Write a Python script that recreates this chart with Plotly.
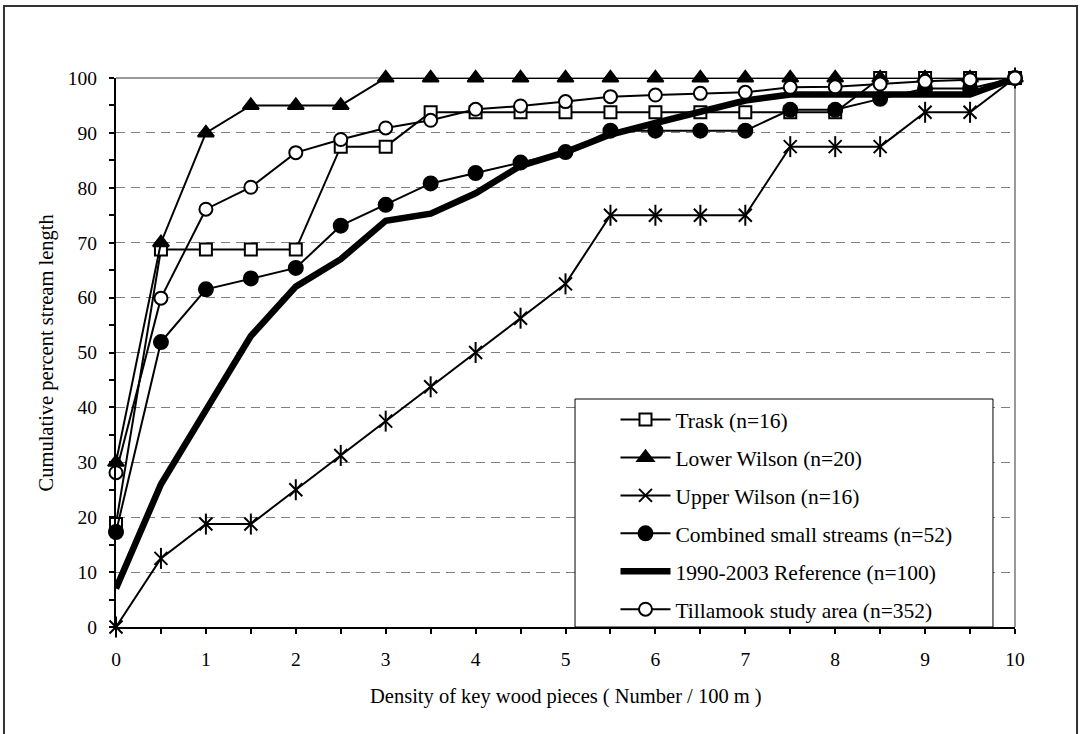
import plotly.graph_objects as go

# Density classes (key wood pieces per 100 m)
density = [0, 0.5, 1, 1.5, 2, 2.5, 3, 3.5, 4, 4.5, 5,
           5.5, 6, 6.5, 7, 7.5, 8, 8.5, 9, 9.5, 10]

# Cumulative percent of stream length for each group
trask = [18.75, 68.75, 68.75, 68.75, 68.75, 87.5, 87.5, 93.75, 93.75, 93.75, 93.75,
         93.75, 93.75, 93.75, 93.75, 93.75, 93.75, 100, 100, 100, 100]
lower_wilson = [30, 70, 90, 95, 95, 95, 100, 100, 100, 100, 100,
                100, 100, 100, 100, 100, 100, 100, 100, 100, 100]
upper_wilson = [0, 12.5, 18.75, 18.75, 25, 31.25, 37.5, 43.75, 50, 56.25, 62.5,
                75, 75, 75, 75, 87.5, 87.5, 87.5, 93.75, 93.75, 100]
combined = [17.3, 51.9, 61.5, 63.5, 65.4, 73.1, 76.9, 80.8, 82.7, 84.6, 86.5,
            90.4, 90.4, 90.4, 90.4, 94.2, 94.2, 96.2, 98.1, 98.1, 100]
reference = [7, 26, 39.5, 53, 62, 67, 74, 75.3, 79, 84, 86.5,
             89.7, 91.8, 93.9, 95.9, 97, 97, 97, 97, 97, 100]
tillamook = [28.1, 59.9, 76.1, 80.1, 86.4, 88.8, 90.9, 92.3, 94.3, 94.9, 95.7,
             96.6, 96.9, 97.2, 97.4, 98.3, 98.4, 98.9, 99.4, 99.7, 100]

names = ["Trask (n=16)", "Lower Wilson (n=20)", "Upper Wilson (n=16)",
         "Combined small streams (n=52)", "1990-2003 Reference (n=100)",
         "Tillamook study area (n=352)"]

FONT = "Liberation Serif"
INK = "black"

fig = go.Figure()

def add(y, name, group, symbol=None, size=12, fill="white", width=2, mode="lines+markers"):
    marker = dict(symbol=symbol or "circle", size=size, color=fill,
                  line=dict(color=INK, width=2))
    fig.add_trace(go.Scatter(
        x=density, y=y, name=name, mode=mode, legendgroup=group,
        line=dict(color=INK, width=width), marker=marker, cliponaxis=False))

add(trask, names[0], "g1", "square", 12, "white")
add(lower_wilson, names[1], "g2", "triangle-up", 14, INK)
add(upper_wilson, names[2], "g3", "x-thin-open", 13, INK)
# vertical stroke completes the six-armed star marker
fig.add_trace(go.Scatter(
    x=density, y=upper_wilson, mode="markers", showlegend=False, legendgroup="g3",
    marker=dict(symbol="line-ns-open", size=15, color=INK, line=dict(color=INK, width=2)),
    cliponaxis=False, hoverinfo="skip"))
add(combined, names[3], "g4", "circle", 14, INK)
add(reference, names[4], "g5", width=6.5, mode="lines")
add(tillamook, names[5], "g6", "circle", 13, "white")

fig.update_layout(
    width=1081, height=734,
    margin=dict(l=116, r=66, t=78, b=107, pad=0),
    paper_bgcolor="white", plot_bgcolor="white",
    font=dict(family=FONT, size=20, color=INK),
    showlegend=True,
    legend=dict(
        x=0.5556, y=0.4153, xanchor="left", yanchor="top",
        bgcolor="rgba(0,0,0,0)", borderwidth=0,
        font=dict(family=FONT, size=21.5, color=INK),
        traceorder="grouped", tracegroupgap=7, itemwidth=50,
    ),
    xaxis=dict(
        range=[0, 10], dtick=1, tick0=0, showgrid=False, zeroline=False,
        showline=True, linecolor=INK, linewidth=2,
        ticks="outside", ticklen=5, tickwidth=1.5, tickcolor=INK,
        minor=dict(dtick=0.5, ticks="outside", ticklen=5, tickwidth=1.5, tickcolor=INK),
        ticklabelstandoff=9,
        tickfont=dict(family=FONT, size=19.5, color=INK),
    ),
    yaxis=dict(
        range=[0, 100], dtick=10, tick0=0, zeroline=False,
        showgrid=True, gridcolor="#808080", gridwidth=1, griddash="9px,6px",
        showline=True, linecolor=INK, linewidth=2,
        ticks="outside", ticklen=5, tickwidth=1.5, tickcolor=INK,
        minor=dict(dtick=5, ticks="outside", ticklen=5, tickwidth=1.5, tickcolor=INK,
                   showgrid=False),
        ticklabelstandoff=8,
        tickfont=dict(family=FONT, size=19.5, color=INK),
    ),
    shapes=[
        # gray top and right frame of the plotting area
        dict(type="line", xref="paper", yref="paper", x0=0, x1=1, y0=1, y1=1,
             line=dict(color="#9a9a9a", width=2), layer="between"),
        dict(type="line", xref="paper", yref="paper", x0=1, x1=1, y0=0, y1=1,
             line=dict(color="#9a9a9a", width=2), layer="between"),
        # legend box
        dict(type="rect", xref="paper", yref="paper", x0=0.5106, x1=0.9755, y0=0, y1=0.4153,
             fillcolor="white", line=dict(color=INK, width=1), layer="above"),
        # outer chart border
        dict(type="rect", xref="paper", yref="paper", x0=-0.1246, x1=1.069, y0=-0.215, y1=1.1311,
             line=dict(color="#333333", width=2), layer="above"),
    ],
    annotations=[
        dict(text="Density of key wood pieces ( Number / 100 m )", xref="paper", yref="paper",
             x=0.5, y=-0.1275, xanchor="center", yanchor="middle", showarrow=False,
             font=dict(family=FONT, size=20.5, color=INK)),
        dict(text="Cumulative percent stream length", xref="paper", yref="paper",
             x=-0.0768, y=0.5, xanchor="center", yanchor="middle", textangle=-90,
             showarrow=False, font=dict(family=FONT, size=20.5, color=INK)),
    ],
)

fig.write_html("out.html")
